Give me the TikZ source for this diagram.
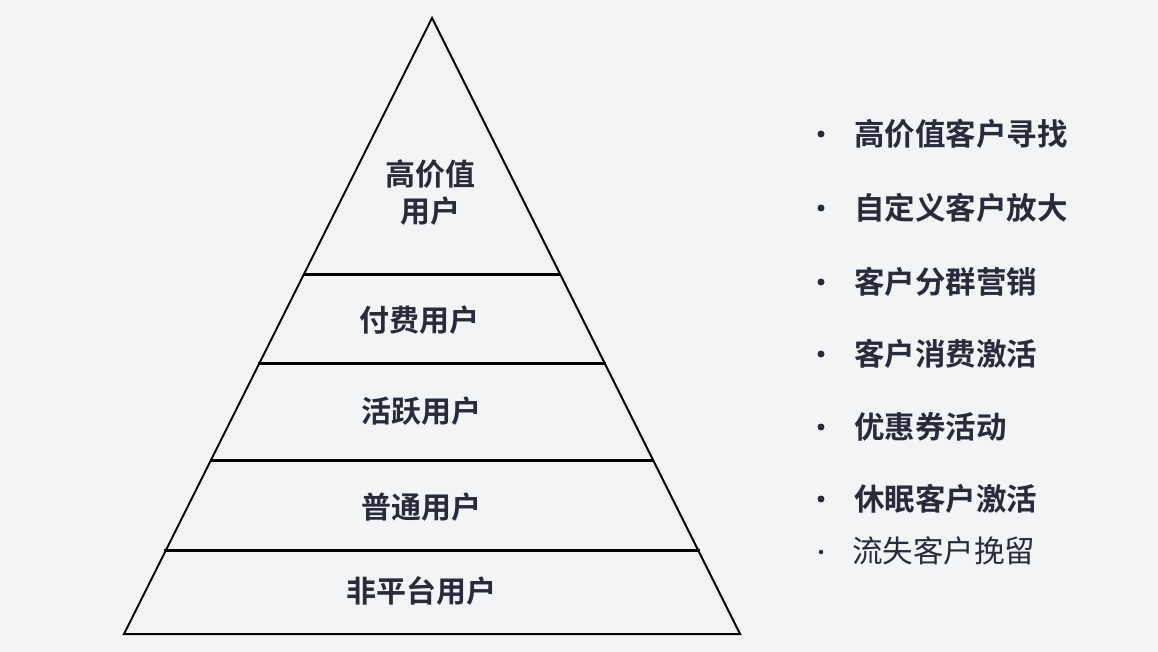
\documentclass[tikz,border=0pt]{standalone}
\usepackage{fontspec}
\newfontfamily\cjk{Noto Sans CJK SC}[BoldFont={Noto Sans CJK SC Bold}]
\definecolor{bg}{HTML}{F3F4F6}
\definecolor{ink}{HTML}{272C3B}
\begin{document}
\begin{tikzpicture}[x=1pt,y=-1pt,
  side/.style={draw=black,line width=2pt,line join=miter},
  tier/.style={draw=black,line width=3pt},
  lbl/.style={text=ink,font=\cjk\bfseries\fontsize{30}{37}\selectfont,align=center,inner sep=0pt},
  item/.style={text=ink,font=\cjk\bfseries\fontsize{30.5}{37}\selectfont,anchor=west,inner sep=0pt},
  itemlight/.style={text=ink,font=\cjk\fontsize{30.5}{37}\selectfont,anchor=west,inner sep=0pt},
  dot/.style={circle,fill=ink,inner sep=0pt,minimum size=7pt},
  smalldot/.style={circle,fill=ink,inner sep=0pt,minimum size=4.5pt}]
\fill[bg] (0,0) rectangle (1158,652);
\useasboundingbox (0,0) rectangle (1158,652);
% pyramid
\coordinate (apex) at (432,18);
\coordinate (bl) at (124,634);
\coordinate (br) at (740,634);
\coordinate (l1) at (303,274); \coordinate (r1) at (561,274);
\coordinate (l2) at (258,363); \coordinate (r2) at (606,363);
\coordinate (l3) at (210,460); \coordinate (r3) at (654,460);
\coordinate (l4) at (164,550); \coordinate (r4) at (700,550);
\draw[side] (apex) -- (bl) -- (br) -- cycle;
\draw[tier] (l1) -- (r1);
\draw[tier] (l2) -- (r2);
\draw[tier] (l3) -- (r3);
\draw[tier] (l4) -- (r4);
% labels
\node[lbl] (t1) at (430,193) {高价值\\用户};
\node[lbl] (t2) at (419,320) {付费用户};
\node[lbl] (t3) at (421,411) {活跃用户};
\node[lbl] (t4) at (421,507) {普通用户};
\node[lbl] (t5) at (421,591) {非平台用户};
% list
\node[dot] (b1) at (821,134) {};
\node[item] (i1) at (854,134) {高价值客户寻找};
\node[dot] (b2) at (821,208) {};
\node[item] (i2) at (854,208) {自定义客户放大};
\node[dot] (b3) at (821,282) {};
\node[item] (i3) at (854,282) {客户分群营销};
\node[dot] (b4) at (821,354) {};
\node[item] (i4) at (854,354) {客户消费激活};
\node[dot] (b5) at (821,427) {};
\node[item] (i5) at (854,427) {优惠券活动};
\node[dot] (b6) at (821,499) {};
\node[item] (i6) at (854,499) {休眠客户激活};
\node[smalldot] (b7) at (821,552) {};
\node[itemlight] (i7) at (852,551) {流失客户挽留};
\end{tikzpicture}
\end{document}
